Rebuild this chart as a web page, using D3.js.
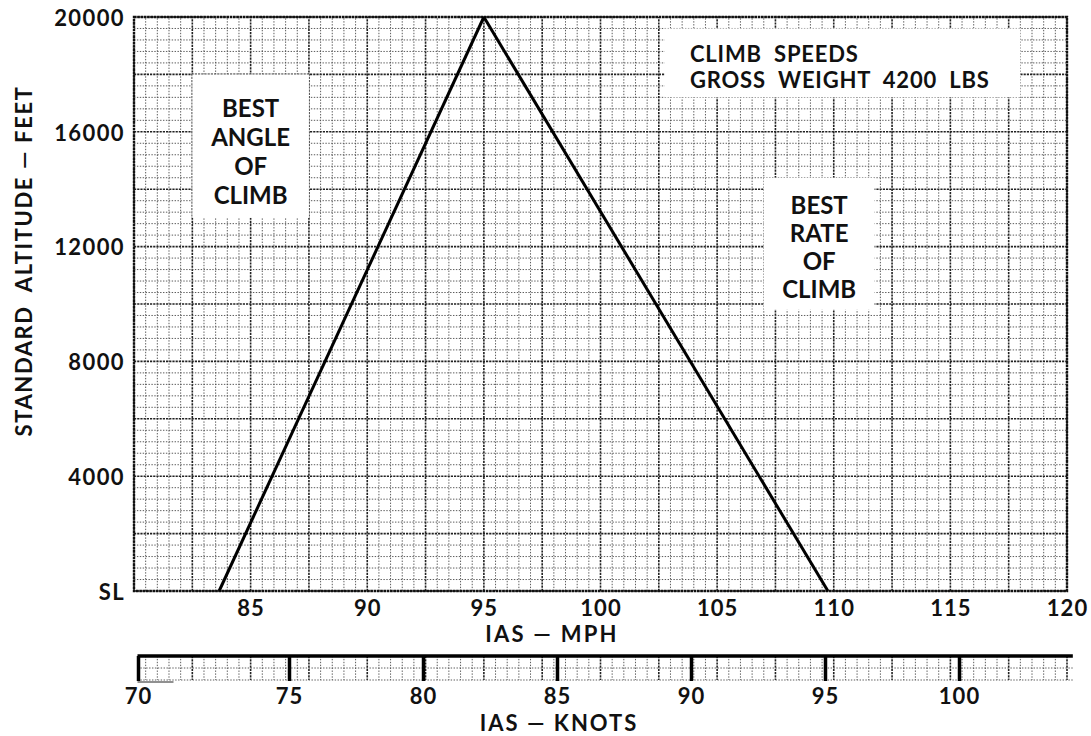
<!DOCTYPE html>
<html>
<head>
<meta charset="utf-8">
<script src="https://cdn.jsdelivr.net/npm/d3@7"></script>
<style>
  html, body { margin: 0; padding: 0; background: #fff; }
  svg { display: block; }
  text { font-family: Lato, "Open Sans", sans-serif; font-weight: 700; fill: #111; white-space: pre; }
</style>
</head>
<body>
<svg id="chart" width="1091" height="736"></svg>
<script>
// Climb speeds chart — gross weight 4200 lbs

// altitude axis
const altTicks = [0, 4000, 8000, 12000, 16000, 20000];
const altTickLabels = ["SL", "4000", "8000", "12000", "16000", "20000"];

// airspeed axes
const mphTicks = [85, 90, 95, 100, 105, 110, 115, 120];
const knotTicks = [70, 75, 80, 85, 90, 95, 100];

// best angle of climb: IAS (mph) by altitude (ft)
const bestAngleMph = [83.65, 95];
const bestAngleAlt = [0, 20000];

// best rate of climb: IAS (mph) by altitude (ft)
const bestRateMph = [109.75, 95];
const bestRateAlt = [0, 20000];

const svg = d3.select("#chart");

const x = d3.scaleLinear().domain([80, 120]).range([134, 1067]);
const y = d3.scaleLinear().domain([0, 20000]).range([591, 17]);
// the printed knots ruler
const kx = d3.scaleLinear().domain([70, 75, 100]).range([138, 289, 959]);

// ---- graph paper ----
const grid = svg.append("g");
const xMinor = d3.range(80, 120.001, 0.5);
const yMinor = d3.range(0, 20000.1, 400);
const isMajorX = v => Math.abs(v / 2.5 - Math.round(v / 2.5)) < 1e-6;
const isMajorY = v => v % 2000 === 0;

function gridStyle(sel, major) {
  sel.attr("stroke", major ? "#222" : "#4a4a4a")
     .attr("stroke-width", major ? 1.6 : 0.9)
     .attr("stroke-dasharray", major ? "2.2,1" : "1.4,1.5")
     .attr("fill", "none");
}

xMinor.forEach(v => {
  grid.append("line")
    .attr("x1", x(v)).attr("x2", x(v))
    .attr("y1", y(0)).attr("y2", y(20000))
    .call(gridStyle, isMajorX(v));
});
yMinor.forEach(v => {
  grid.append("line")
    .attr("x1", x(80)).attr("x2", x(120))
    .attr("y1", y(v)).attr("y2", y(v))
    .call(gridStyle, isMajorY(v));
});
// outer border of the paper
grid.append("rect")
  .attr("x", x(80)).attr("y", y(20000))
  .attr("width", x(120) - x(80)).attr("height", y(0) - y(20000))
  .attr("fill", "none").attr("stroke", "#111")
  .attr("stroke-width", 2.4).attr("stroke-dasharray", "2.6,0.7");

// ---- white label panels ----
const panels = [
  { x0: 82.5, x1: 87.5, a0: 13000, a1: 18000 },
  { x0: 102.75, x1: 118, a0: 17200, a1: 19600 },
  { x0: 107, x1: 111.75, a0: 9800, a1: 14400 }
];
svg.append("g").selectAll("rect").data(panels).join("rect")
  .attr("x", d => x(d.x0)).attr("y", d => y(d.a1))
  .attr("width", d => x(d.x1) - x(d.x0))
  .attr("height", d => y(d.a0) - y(d.a1))
  .attr("fill", "#fff");

// ---- climb speed lines ----
const line = d3.line().x(d => x(d[0])).y(d => y(d[1]));
const curves = [
  d3.zip(bestAngleMph, bestAngleAlt),
  d3.zip(bestRateMph, bestRateAlt)
];
svg.append("g").selectAll("path").data(curves).join("path")
  .attr("d", line)
  .attr("fill", "none").attr("stroke", "#000")
  .attr("stroke-width", 3).attr("stroke-linejoin", "miter");

// ---- panel texts ----
function block(lines, cx, top, pitch, size, anchor, spacing) {
  const t = svg.append("text")
    .attr("text-anchor", anchor)
    .style("font-size", size + "px")
    .style("letter-spacing", spacing + "px");
  lines.forEach((s, i) => {
    t.append("tspan").attr("x", cx).attr("y", top + i * pitch).text(s);
  });
  return t;
}
block(["BEST", "ANGLE", "OF", "CLIMB"], x(85), 117, 29, 24, "middle", 0);
block(["BEST", "RATE", "OF", "CLIMB"], x(109.375), 214, 28, 24, "middle", 0);
block(["CLIMB  SPEEDS", "GROSS  WEIGHT  4200  LBS"], 690, 62, 26, 22, "start", 0.8);

// ---- axes ----
const axisFont = 22;

const yAxis = svg.append("g")
  .attr("transform", `translate(${x(80)},0)`)
  .call(d3.axisLeft(y).tickValues(altTicks)
        .tickFormat((d, i) => altTickLabels[i]).tickSize(0).tickPadding(9));
yAxis.select(".domain").remove();
yAxis.selectAll("text")
  .attr("font-family", null).attr("font-size", null)
  .style("font-size", axisFont + "px").style("letter-spacing", "1.4px")
  .attr("dy", "0.38em");

const xAxis = svg.append("g")
  .attr("transform", `translate(0,${y(0)})`)
  .call(d3.axisBottom(x).tickValues(mphTicks).tickSize(0));
xAxis.select(".domain").remove();
xAxis.selectAll("text")
  .attr("font-family", null).attr("font-size", null)
  .style("font-size", axisFont + "px").style("letter-spacing", "1px")
  .attr("y", 25).attr("dy", 0);

svg.append("text").attr("x", 552).attr("y", 642)
  .attr("text-anchor", "middle").style("font-size", "22px")
  .style("letter-spacing", "2.2px")
  .text("IAS — MPH");

// ---- knots ruler ----
const rulerTop = 656;
const ruler = svg.append("g");
const rulerX0 = x(80.15), rulerX1 = x(120.25);
d3.range(80.5, 120.26, 0.5).forEach(v => {
  ruler.append("line")
    .attr("x1", x(v)).attr("x2", x(v))
    .attr("y1", rulerTop).attr("y2", rulerTop + 24)
    .call(gridStyle, isMajorX(v));
});
[rulerTop + 12, rulerTop + 24].forEach(yy => {
  ruler.append("line")
    .attr("x1", rulerX0).attr("x2", rulerX1)
    .attr("y1", yy).attr("y2", yy)
    .call(gridStyle, false);
});
ruler.append("line")
  .attr("x1", rulerX0).attr("x2", rulerX1)
  .attr("y1", rulerTop).attr("y2", rulerTop)
  .attr("stroke", "#000").attr("stroke-width", 3.5);
ruler.append("line")
  .attr("x1", rulerX0).attr("x2", rulerX0 + 36)
  .attr("y1", rulerTop + 26).attr("y2", rulerTop + 26)
  .attr("stroke", "#222").attr("stroke-width", 1.2);

const kAxis = svg.append("g")
  .attr("transform", `translate(0,${rulerTop})`)
  .call(d3.axisBottom(kx).tickValues(knotTicks).tickSizeInner(25).tickSizeOuter(0));
kAxis.select(".domain").remove();
kAxis.selectAll(".tick line").attr("stroke", "#000").attr("stroke-width", 3.5);
kAxis.selectAll("text")
  .attr("font-family", null).attr("font-size", null)
  .style("font-size", axisFont + "px").style("letter-spacing", "1px")
  .attr("y", 48).attr("dy", 0);

svg.append("text").attr("x", 559).attr("y", 731)
  .attr("text-anchor", "middle").style("font-size", "22px")
  .style("letter-spacing", "2px")
  .text("IAS — KNOTS");

// ---- altitude title ----
svg.append("text")
  .attr("transform", "translate(32,261) rotate(-90)")
  .attr("text-anchor", "middle").style("font-size", "22px")
  .style("letter-spacing", "1.6px")
  .text("STANDARD  ALTITUDE — FEET");
</script>
</body>
</html>
